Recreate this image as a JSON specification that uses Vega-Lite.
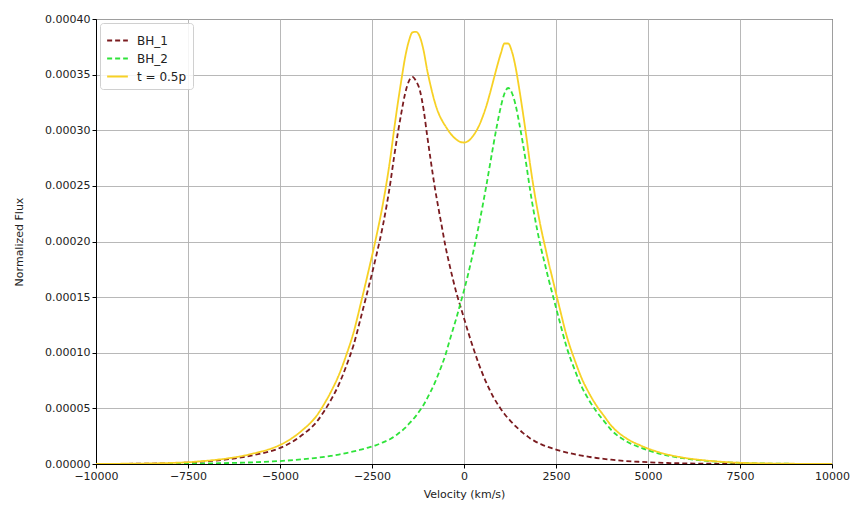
{
  "$schema": "https://vega.github.io/schema/vega-lite/v6.json",
  "width": 736,
  "height": 445,
  "autosize": "none",
  "padding": {"left": 96, "top": 19, "right": 19, "bottom": 43},
  "background": "white",
  "config": {
    "font": "DejaVu Sans",
    "view": {"stroke": "black", "strokeWidth": 1}
  },
  "data": {"values": [
    {"v": -10000, "b1": 0.0075e-5, "b2": 0.0025e-5, "t": 0.01e-5},
    {"v": -9500, "b1": 0.013e-5, "b2": 0.004e-5, "t": 0.017e-5},
    {"v": -9000, "b1": 0.023e-5, "b2": 0.007e-5, "t": 0.03e-5},
    {"v": -8500, "b1": 0.041e-5, "b2": 0.011e-5, "t": 0.052e-5},
    {"v": -8000, "b1": 0.073e-5, "b2": 0.018e-5, "t": 0.091e-5},
    {"v": -7500, "b1": 0.13e-5, "b2": 0.03e-5, "t": 0.16e-5},
    {"v": -7000, "b1": 0.24e-5, "b2": 0.05e-5, "t": 0.29e-5},
    {"v": -6500, "b1": 0.39e-5, "b2": 0.08e-5, "t": 0.47e-5},
    {"v": -6000, "b1": 0.62e-5, "b2": 0.12e-5, "t": 0.74e-5},
    {"v": -5600, "b1": 0.88e-5, "b2": 0.17e-5, "t": 1.05e-5},
    {"v": -5200, "b1": 1.2e-5, "b2": 0.23e-5, "t": 1.43e-5},
    {"v": -4800, "b1": 1.75e-5, "b2": 0.31e-5, "t": 2.06e-5},
    {"v": -4400, "b1": 2.6e-5, "b2": 0.42e-5, "t": 3.02e-5},
    {"v": -4000, "b1": 3.8e-5, "b2": 0.56e-5, "t": 4.36e-5},
    {"v": -3800, "b1": 4.75e-5, "b2": 0.64e-5, "t": 5.39e-5},
    {"v": -3600, "b1": 5.85e-5, "b2": 0.74e-5, "t": 6.59e-5},
    {"v": -3400, "b1": 7.15e-5, "b2": 0.85e-5, "t": 8.0e-5},
    {"v": -3200, "b1": 8.8e-5, "b2": 0.98e-5, "t": 9.78e-5},
    {"v": -3000, "b1": 10.7e-5, "b2": 1.13e-5, "t": 11.83e-5},
    {"v": -2800, "b1": 13.2e-5, "b2": 1.3e-5, "t": 14.5e-5},
    {"v": -2600, "b1": 15.8e-5, "b2": 1.48e-5, "t": 17.28e-5},
    {"v": -2400, "b1": 18.5e-5, "b2": 1.68e-5, "t": 20.18e-5},
    {"v": -2200, "b1": 21.5e-5, "b2": 1.95e-5, "t": 23.45e-5},
    {"v": -2000, "b1": 25.3e-5, "b2": 2.25e-5, "t": 27.55e-5},
    {"v": -1900, "b1": 27.6e-5, "b2": 2.45e-5, "t": 30.05e-5},
    {"v": -1800, "b1": 29.7e-5, "b2": 2.7e-5, "t": 32.4e-5},
    {"v": -1700, "b1": 31.6e-5, "b2": 2.95e-5, "t": 34.55e-5},
    {"v": -1600, "b1": 33.3e-5, "b2": 3.25e-5, "t": 36.55e-5},
    {"v": -1500, "b1": 34.4e-5, "b2": 3.6e-5, "t": 38.0e-5},
    {"v": -1400, "b1": 34.8e-5, "b2": 3.95e-5, "t": 38.8e-5},
    {"v": -1300, "b1": 34.4e-5, "b2": 4.35e-5, "t": 38.85e-5},
    {"v": -1200, "b1": 33.6e-5, "b2": 4.8e-5, "t": 38.4e-5},
    {"v": -1100, "b1": 31.9e-5, "b2": 5.3e-5, "t": 37.2e-5},
    {"v": -1000, "b1": 29.5e-5, "b2": 5.9e-5, "t": 35.4e-5},
    {"v": -900, "b1": 27.2e-5, "b2": 6.55e-5, "t": 33.9e-5},
    {"v": -800, "b1": 25.0e-5, "b2": 7.25e-5, "t": 32.6e-5},
    {"v": -700, "b1": 23.1e-5, "b2": 8.05e-5, "t": 31.6e-5},
    {"v": -600, "b1": 21.3e-5, "b2": 8.9e-5, "t": 30.9e-5},
    {"v": -500, "b1": 19.5e-5, "b2": 9.85e-5, "t": 30.35e-5},
    {"v": -400, "b1": 18.0e-5, "b2": 11.0e-5, "t": 29.85e-5},
    {"v": -300, "b1": 16.6e-5, "b2": 12.1e-5, "t": 29.45e-5},
    {"v": -200, "b1": 15.3e-5, "b2": 13.2e-5, "t": 29.15e-5},
    {"v": -100, "b1": 14.2e-5, "b2": 14.4e-5, "t": 28.95e-5},
    {"v": 0, "b1": 13.1e-5, "b2": 15.6e-5, "t": 28.9e-5},
    {"v": 100, "b1": 12.0e-5, "b2": 16.9e-5, "t": 29.0e-5},
    {"v": 200, "b1": 10.95e-5, "b2": 18.3e-5, "t": 29.3e-5},
    {"v": 300, "b1": 9.95e-5, "b2": 19.8e-5, "t": 29.75e-5},
    {"v": 400, "b1": 9.0e-5, "b2": 21.4e-5, "t": 30.35e-5},
    {"v": 500, "b1": 8.15e-5, "b2": 23.1e-5, "t": 31.15e-5},
    {"v": 600, "b1": 7.35e-5, "b2": 24.9e-5, "t": 32.1e-5},
    {"v": 700, "b1": 6.65e-5, "b2": 26.8e-5, "t": 33.25e-5},
    {"v": 800, "b1": 6.0e-5, "b2": 28.7e-5, "t": 34.5e-5},
    {"v": 900, "b1": 5.45e-5, "b2": 30.5e-5, "t": 35.75e-5},
    {"v": 1000, "b1": 4.95e-5, "b2": 32.1e-5, "t": 36.9e-5},
    {"v": 1100, "b1": 4.5e-5, "b2": 33.3e-5, "t": 37.8e-5},
    {"v": 1200, "b1": 4.1e-5, "b2": 33.8e-5, "t": 37.8e-5},
    {"v": 1300, "b1": 3.75e-5, "b2": 33.37e-5, "t": 37.1e-5},
    {"v": 1400, "b1": 3.4e-5, "b2": 32.3e-5, "t": 35.7e-5},
    {"v": 1500, "b1": 3.1e-5, "b2": 30.65e-5, "t": 33.75e-5},
    {"v": 1600, "b1": 2.8e-5, "b2": 28.81e-5, "t": 31.6e-5},
    {"v": 1700, "b1": 2.55e-5, "b2": 26.77e-5, "t": 29.3e-5},
    {"v": 1800, "b1": 2.3e-5, "b2": 24.54e-5, "t": 26.85e-5},
    {"v": 1900, "b1": 2.1e-5, "b2": 22.6e-5, "t": 24.7e-5},
    {"v": 2000, "b1": 1.92e-5, "b2": 20.86e-5, "t": 22.78e-5},
    {"v": 2100, "b1": 1.77e-5, "b2": 19.3e-5, "t": 21.07e-5},
    {"v": 2200, "b1": 1.63e-5, "b2": 17.95e-5, "t": 19.58e-5},
    {"v": 2300, "b1": 1.51e-5, "b2": 16.59e-5, "t": 18.1e-5},
    {"v": 2400, "b1": 1.4e-5, "b2": 15.33e-5, "t": 16.73e-5},
    {"v": 2600, "b1": 1.2e-5, "b2": 12.8e-5, "t": 14.0e-5},
    {"v": 2800, "b1": 1.03e-5, "b2": 10.38e-5, "t": 11.4e-5},
    {"v": 3000, "b1": 0.88e-5, "b2": 8.54e-5, "t": 9.42e-5},
    {"v": 3200, "b1": 0.75e-5, "b2": 6.94e-5, "t": 7.69e-5},
    {"v": 3400, "b1": 0.64e-5, "b2": 5.72e-5, "t": 6.36e-5},
    {"v": 3600, "b1": 0.54e-5, "b2": 4.71e-5, "t": 5.25e-5},
    {"v": 3800, "b1": 0.46e-5, "b2": 3.88e-5, "t": 4.34e-5},
    {"v": 4000, "b1": 0.39e-5, "b2": 3.06e-5, "t": 3.45e-5},
    {"v": 4400, "b1": 0.27e-5, "b2": 2.06e-5, "t": 2.33e-5},
    {"v": 4800, "b1": 0.19e-5, "b2": 1.47e-5, "t": 1.66e-5},
    {"v": 5200, "b1": 0.13e-5, "b2": 1.03e-5, "t": 1.16e-5},
    {"v": 5600, "b1": 0.085e-5, "b2": 0.72e-5, "t": 0.8e-5},
    {"v": 6000, "b1": 0.055e-5, "b2": 0.5e-5, "t": 0.55e-5},
    {"v": 6500, "b1": 0.03e-5, "b2": 0.31e-5, "t": 0.34e-5},
    {"v": 7000, "b1": 0.017e-5, "b2": 0.184e-5, "t": 0.2e-5},
    {"v": 7500, "b1": 0.01e-5, "b2": 0.097e-5, "t": 0.107e-5},
    {"v": 8000, "b1": 0.006e-5, "b2": 0.057e-5, "t": 0.063e-5},
    {"v": 8500, "b1": 0.0035e-5, "b2": 0.032e-5, "t": 0.036e-5},
    {"v": 9000, "b1": 0.002e-5, "b2": 0.0175e-5, "t": 0.02e-5},
    {"v": 9500, "b1": 0.0012e-5, "b2": 0.0107e-5, "t": 0.012e-5},
    {"v": 10000, "b1": 0.0008e-5, "b2": 0.0058e-5, "t": 0.0066e-5}
  ]},
  "transform": [{"fold": ["b1", "b2", "t"], "as": ["series", "flux"]}],
  "mark": {"type": "line", "strokeWidth": 1.8, "clip": true, "interpolate": "monotone"},
  "encoding": {
    "x": {
      "field": "v", "type": "quantitative",
      "scale": {"domain": [-10000, 10000], "nice": false, "zero": false},
      "axis": {
        "title": "Velocity (km/s)", "titleFontSize": 11, "titleFontWeight": "normal", "titleColor": "#222", "titlePadding": 7,
        "values": [-10000, -7500, -5000, -2500, 0, 2500, 5000, 7500, 10000],
        "format": "d", "labelFontSize": 11, "labelColor": "#222", "labelPadding": 2,
        "grid": true, "gridColor": "#b0b0b0", "gridWidth": 0.9,
        "domainColor": "black", "tickColor": "black", "tickSize": 4, "labelFlush": false
      }
    },
    "y": {
      "field": "flux", "type": "quantitative",
      "scale": {"domain": [0, 0.0004], "nice": false},
      "axis": {
        "title": "Normalized Flux", "titleFontSize": 11, "titleFontWeight": "normal", "titleColor": "#222", "titlePadding": 20,
        "values": [0, 0.00005, 0.0001, 0.00015, 0.0002, 0.00025, 0.0003, 0.00035, 0.0004],
        "format": ".5f", "labelFontSize": 11, "labelColor": "#222", "labelPadding": 2,
        "grid": true, "gridColor": "#b0b0b0", "gridWidth": 0.9,
        "domainColor": "black", "tickColor": "black", "tickSize": 4, "labelFlush": false
      }
    },
    "color": {
      "field": "series", "type": "nominal",
      "scale": {"domain": ["b1", "b2", "t"], "range": ["#7a1b1f", "#2fe33a", "#f7d125"]},
      "legend": {
        "title": null, "orient": "top-left", "offset": 4,
        "labelExpr": "datum.label == 'b1' ? 'BH_1' : datum.label == 'b2' ? 'BH_2' : 't = 0.5p'",
        "labelFontSize": 12, "labelColor": "#222", "labelOffset": 8, "symbolType": "stroke", "symbolStrokeWidth": 2, "symbolSize": 430,
        "fillColor": "rgba(255,255,255,0.85)", "strokeColor": "#d0d0d0", "cornerRadius": 3, "padding": 6, "rowPadding": 0
      }
    },
    "strokeDash": {
      "field": "series", "type": "nominal",
      "scale": {"domain": ["b1", "b2", "t"], "range": [[5, 3], [5, 3], [1, 0]]},
      "legend": null
    }
  }
}
